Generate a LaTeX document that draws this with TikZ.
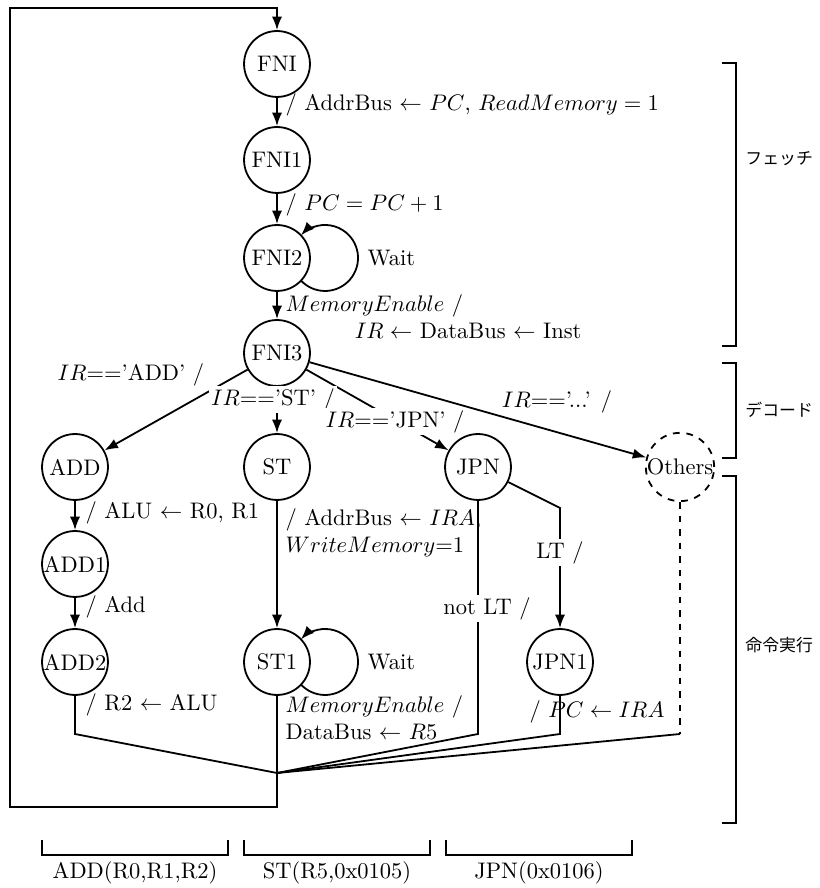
\documentclass[tikz,border=0pt]{standalone}
\usepackage{fontspec}
\newfontfamily\jp{Noto Sans CJK JP}
\usetikzlibrary{arrows.meta}
\begin{document}
\begin{tikzpicture}[x=0.4444pt,y=0.4444pt,
  st/.style={draw,circle,thick,minimum size=29.3pt,inner sep=0pt},
  conn/.style={thick},
  arr/.style={thick,-{Latex[length=6pt,width=4.5pt]}},
  lbl/.style={inner sep=1pt,anchor=west},
  onl/.style={fill=white,inner sep=1pt},
  brk/.style={thick},
  jpl/.style={anchor=west,inner sep=0pt,font=\jp\fontsize{7.5}{9}\selectfont}]
\useasboundingbox (0,0) rectangle (820,888);
% states
\node[st] (FNI) at (277,824) {FNI};
\node[st] (FNI1) at (277,728) {FNI1};
\node[st] (FNI2) at (277,630) {FNI2};
\node[st] (FNI3) at (277,535) {FNI3};
\node[st] (ADD) at (75,421) {ADD};
\node[st] (ST) at (277,421) {ST};
\node[st] (JPN) at (478,421) {JPN};
\node[st,dashed] (OTH) at (680,421) {Others};
\node[st] (ADD1) at (75,324) {ADD1};
\node[st] (ADD2) at (75,226) {ADD2};
\node[st] (ST1) at (277,226) {ST1};
\node[st] (JPN1) at (560,226) {JPN1};
% helper coordinates
\coordinate (M) at (277,115);
\coordinate (botL) at (10,81);
\coordinate (topR) at (277,880);
\coordinate (eADD) at (75,154);
\coordinate (eNLT) at (478,154);
\coordinate (eJPN) at (560,154);
\coordinate (eOTH) at (680,154);
\coordinate (jc) at (560,380);
% main chain
\draw[arr] (FNI) -- (FNI1);
\draw[arr] (FNI1) -- (FNI2);
\draw[arr] (FNI2) -- (FNI3);
\draw[arr] ([shift={(24,-22.6)}]FNI2.center) arc[start angle=-136.7,end angle=136.7,radius=33];
\draw[arr] (FNI3) -- (ADD);
\draw[arr] (FNI3) -- (ST);
\draw[arr] (FNI3) -- (JPN);
\draw[arr] (FNI3) -- (OTH);
\draw[arr] (ADD) -- (ADD1);
\draw[arr] (ADD1) -- (ADD2);
\draw[arr] (ST) -- (ST1);
\draw[arr] ([shift={(24,-22.6)}]ST1.center) arc[start angle=-136.7,end angle=136.7,radius=33];
\draw[arr] (JPN) -- (jc) -- (JPN1);
% joins
\draw[conn] (ADD2) -- (eADD) -- (M);
\draw[conn] (JPN) -- (eNLT) -- (M);
\draw[conn] (JPN1) -- (eJPN) -- (M);
\draw[conn,dashed] (OTH) -- (eOTH);
\draw[conn] (eOTH) -- (M);
\draw[conn] (ST1) -- (M);
\draw[arr] (M) |- (botL) |- (topR) -- (FNI);
% labels
\node[lbl] at (283,783) {/ AddrBus $\leftarrow$ $PC$, $ReadMemory=1$};
\node[lbl] at (283,683) {/ $PC=PC+1$};
\node[lbl] at (365,630) {Wait};
\node[lbl,align=left] at (283,571.5) {$MemoryEnable$ /\\\hspace*{30.7pt}$IR\leftarrow$ DataBus $\leftarrow$ Inst};
\node[lbl] at (55,513) {$IR$=='ADD' /};
\node[onl] at (273,488) {$IR$=='ST' /};
\node[onl] at (395,466) {$IR$=='JPN' /};
\node[inner sep=1pt] at (557,486) {$IR$=='...' /};
\node[lbl] at (83,375) {/ ALU $\leftarrow$ R0, R1};
\node[lbl] at (83,281) {/ Add};
\node[lbl,align=left] at (283,355.5) {/ AddrBus $\leftarrow$ $IRA$,\\$WriteMemory$=1};
\node[lbl] at (365,226) {Wait};
\node[lbl] at (83,183) {/ R2 $\leftarrow$ ALU};
\node[lbl,align=left] at (283,170) {$MemoryEnable$ /\\DataBus $\leftarrow$ $R5$};
\node[onl] at (560,335) {LT /};
\node[onl] at (487,279) {not LT /};
\node[inner sep=1pt] at (597,176) {/ $PC\leftarrow IRA$};
% right brackets
\draw[brk] (722,825) -- (736,825) -- (736,542) -- (722,542);
\node[jpl] (fetch) at (745,729) {フェッチ};
\draw[brk] (722,525) -- (736,525) -- (736,430) -- (722,430);
\node[jpl] (decode) at (745,478) {デコード};
\draw[brk] (722,412) -- (736,412) -- (736,65) -- (722,65);
\node[jpl] (exec) at (745,243) {命令実行};
% bottom brackets
\draw[brk] (42,48) -- (42,33) -- (228,33) -- (228,48);
\draw[brk] (244,48) -- (244,33) -- (430,33) -- (430,48);
\draw[brk] (446,48) -- (446,33) -- (632,33) -- (632,48);
\node (b1) at (135,15) {ADD(R0,R1,R2)};
\node (b2) at (337,15) {ST(R5,0x0105)};
\node (b3) at (539,15) {JPN(0x0106)};
\end{tikzpicture}
\end{document}
